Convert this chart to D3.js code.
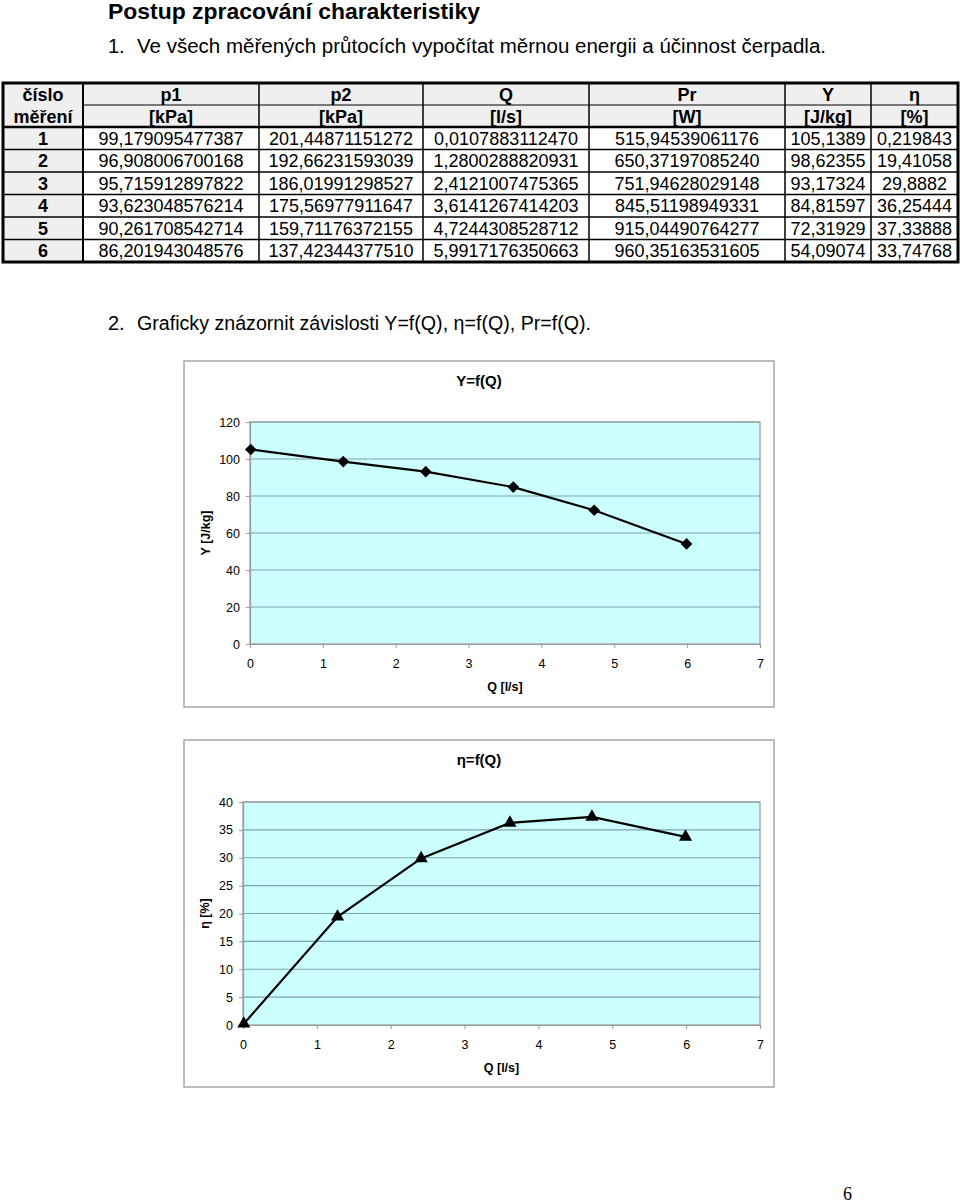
<!DOCTYPE html>
<html>
<head>
<meta charset="utf-8">
<script src="https://cdn.jsdelivr.net/npm/d3@7"></script>
<style>
  html, body { margin: 0; padding: 0; background: #fff; }
  svg { display: block; }
  text { font-family: "Liberation Sans", Arial, Helvetica, sans-serif; fill: #000; }
</style>
</head>
<body>
<svg id="page" width="960" height="1203"></svg>
<script>
// ---------- DATA ----------
const headers1 = ["číslo", "p1", "p2", "Q", "Pr", "Y", "η"];
const headers2 = ["měření", "[kPa]", "[kPa]", "[l/s]", "[W]", "[J/kg]", "[%]"];
const measNo = ["1", "2", "3", "4", "5", "6"];
const p1 = ["99,179095477387", "96,908006700168", "95,715912897822", "93,623048576214", "90,261708542714", "86,201943048576"];
const p2 = ["201,44871151272", "192,66231593039", "186,01991298527", "175,56977911647", "159,71176372155", "137,42344377510"];
const Q  = ["0,0107883112470", "1,2800288820931", "2,4121007475365", "3,6141267414203", "4,7244308528712", "5,9917176350663"];
const Pr = ["515,94539061176", "650,37197085240", "751,94628029148", "845,51198949331", "915,04490764277", "960,35163531605"];
const Y  = ["105,1389", "98,62355", "93,17324", "84,81597", "72,31929", "54,09074"];
const eta = ["0,219843", "19,41058", "29,8882", "36,25444", "37,33888", "33,74768"];

const xTicks = [0, 1, 2, 3, 4, 5, 6, 7];
const yTicks1 = [0, 20, 40, 60, 80, 100, 120];
const yTicks2 = [0, 5, 10, 15, 20, 25, 30, 35, 40];

const num = s => parseFloat(s.replace(",", "."));

// ---------- PAGE ----------
const svg = d3.select("#page");

svg.append("text").attr("x", 108).attr("y", 19)
  .style("font-size", "22.5px").style("font-weight", "bold")
  .attr("textLength", 372).attr("lengthAdjust", "spacingAndGlyphs")
  .text("Postup zpracování charakteristiky");

svg.append("text").attr("x", 108).attr("y", 53)
  .style("font-size", "20px").text("1.");
svg.append("text").attr("x", 137).attr("y", 53)
  .style("font-size", "20px").attr("textLength", 689).attr("lengthAdjust", "spacingAndGlyphs")
  .text("Ve všech měřených průtocích vypočítat měrnou energii a účinnost čerpadla.");

svg.append("text").attr("x", 108).attr("y", 330)
  .style("font-size", "20px").text("2.");
svg.append("text").attr("x", 137).attr("y", 330)
  .style("font-size", "20px").attr("textLength", 454).attr("lengthAdjust", "spacingAndGlyphs")
  .text("Graficky znázornit závislosti Y=f(Q), η=f(Q), Pr=f(Q).");

svg.append("text").attr("x", 843).attr("y", 1200)
  .style("font-family", "'Liberation Serif', 'Times New Roman', serif")
  .style("font-size", "18px").text("6");

// ---------- TABLE ----------
const colX = [3, 83, 259, 423, 589, 785, 871, 958];
const tTop = 83, hRow = 22, dRow = 22.5;
const rowsTop = tTop + 2 * hRow;
const tBottom = rowsTop + 6 * dRow;
const tg = svg.append("g");

tg.append("rect").attr("x", colX[0]).attr("y", tTop).attr("width", colX[7] - colX[0]).attr("height", 2 * hRow).attr("fill", "#efefef");
tg.append("rect").attr("x", colX[0]).attr("y", rowsTop).attr("width", colX[1] - colX[0]).attr("height", 6 * dRow).attr("fill", "#efefef");

headers1.forEach((h, i) => {
  tg.append("text").attr("x", (colX[i] + colX[i + 1]) / 2).attr("y", tTop + hRow / 2 + 6.5)
    .attr("text-anchor", "middle").style("font-size", "18px").style("font-weight", "bold").text(h);
});
headers2.forEach((h, i) => {
  tg.append("text").attr("x", (colX[i] + colX[i + 1]) / 2).attr("y", tTop + hRow * 1.5 + 6.5)
    .attr("text-anchor", "middle").style("font-size", "18px").style("font-weight", "bold").text(h);
});

const cols = [measNo, p1, p2, Q, Pr, Y, eta];
measNo.forEach((_, r) => {
  cols.forEach((c, i) => {
    tg.append("text").attr("x", (colX[i] + colX[i + 1]) / 2).attr("y", rowsTop + dRow * r + dRow / 2 + 6.5)
      .attr("text-anchor", "middle").style("font-size", "18px")
      .style("font-weight", i === 0 ? "bold" : "normal").text(c[r]);
  });
});

const line = (x1, y1, x2, y2, w) => tg.append("line").attr("x1", x1).attr("y1", y1).attr("x2", x2).attr("y2", y2)
  .attr("stroke", "#000").attr("stroke-width", w);
line(colX[1], tTop + hRow, colX[7], tTop + hRow, 1);
line(colX[0], rowsTop, colX[7], rowsTop, 2.5);
for (let r = 1; r < 6; r++) line(colX[0], rowsTop + r * dRow, colX[7], rowsTop + r * dRow, 1.5);
for (let i = 1; i < 7; i++) line(colX[i], tTop, colX[i], tBottom, i === 1 ? 2 : 1.5);
tg.append("rect").attr("x", colX[0]).attr("y", tTop).attr("width", colX[7] - colX[0]).attr("height", tBottom - tTop)
  .attr("fill", "none").attr("stroke", "#000").attr("stroke-width", 3);

// ---------- CHARTS ----------
function chart(o) {
  const g = svg.append("g");
  g.append("rect").attr("x", o.fx).attr("y", o.fy).attr("width", o.fw).attr("height", o.fh)
    .attr("fill", "#fff").attr("stroke", "#a6a6a6").attr("stroke-width", 1.5);

  const x = d3.scaleLinear().domain([0, 7]).range([o.x0, o.x1]);
  const y = d3.scaleLinear().domain([0, o.ymax]).range([o.y0, o.y1]);

  g.append("rect").attr("x", o.x0).attr("y", o.y1).attr("width", o.x1 - o.x0).attr("height", o.y0 - o.y1)
    .attr("fill", "#ccffff");

  g.selectAll(".grid").data(o.yTicks.filter(t => t > 0)).enter().append("line")
    .attr("x1", o.x0).attr("x2", o.x1).attr("y1", d => y(d)).attr("y2", d => y(d))
    .attr("stroke", "#7fa3a8").attr("stroke-width", 1.2);

  g.append("rect").attr("x", o.x0).attr("y", o.y1).attr("width", o.x1 - o.x0).attr("height", o.y0 - o.y1)
    .attr("fill", "none").attr("stroke", "#9a9a9a").attr("stroke-width", 1.2);

  const ax = g.append("g").attr("transform", `translate(0,${o.y0})`)
    .call(d3.axisBottom(x).tickValues(xTicks).tickSize(4).tickPadding(11).tickFormat(d3.format("d")));
  const ay = g.append("g").attr("transform", `translate(${o.x0},0)`)
    .call(d3.axisLeft(y).tickValues(o.yTicks).tickSize(4).tickPadding(6).tickFormat(d3.format("d")));
  [ax, ay].forEach(a => {
    a.select(".domain").attr("stroke", "#9a9a9a").attr("stroke-width", 1.2);
    a.selectAll(".tick line").attr("stroke", "#9a9a9a");
    a.selectAll(".tick text").style("font-size", "12.5px").style("font-family", "'Liberation Sans', Arial, sans-serif").attr("fill", "#000");
  });

  g.append("text").attr("x", o.fx + o.fw / 2).attr("y", o.fy + 25)
    .attr("text-anchor", "middle").style("font-size", "15px").style("font-weight", "bold").text(o.title);
  g.append("text").attr("x", (o.x0 + o.x1) / 2).attr("y", o.y0 + 47)
    .attr("text-anchor", "middle").style("font-size", "12.5px").style("font-weight", "bold").text("Q [l/s]");
  g.append("text").attr("transform", `translate(${o.ytx},${(o.y0 + o.y1) / 2}) rotate(-90)`)
    .attr("text-anchor", "middle").style("font-size", "12.5px").style("font-weight", "bold").text(o.ytitle);

  const pts = o.xs.map((v, i) => [num(v), num(o.ys[i])]);
  g.append("path").datum(pts)
    .attr("d", d3.line().x(d => x(d[0])).y(d => y(d[1])))
    .attr("fill", "none").attr("stroke", "#000").attr("stroke-width", 2.2);

  g.selectAll(".mk").data(pts).enter().append("path")
    .attr("transform", d => `translate(${x(d[0])},${y(d[1])}) rotate(${o.rot})`)
    .attr("d", d3.symbol().type(o.symbol).size(o.symSize))
    .attr("fill", "#000");
}

chart({
  fx: 184, fy: 361, fw: 590, fh: 346,
  x0: 250, x1: 760, y0: 644, y1: 422, ymax: 120,
  yTicks: yTicks1, title: "Y=f(Q)", ytitle: "Y [J/kg]", ytx: 210,
  xs: Q, ys: Y, symbol: d3.symbolSquare, symSize: 68, rot: 45
});

chart({
  fx: 184, fy: 740, fw: 590, fh: 347,
  x0: 243, x1: 760, y0: 1025, y1: 802, ymax: 40,
  yTicks: yTicks2, title: "η=f(Q)", ytitle: "η [%]", ytx: 209,
  xs: Q, ys: eta, symbol: d3.symbolTriangle, symSize: 75, rot: 0
});
</script>
</body>
</html>
